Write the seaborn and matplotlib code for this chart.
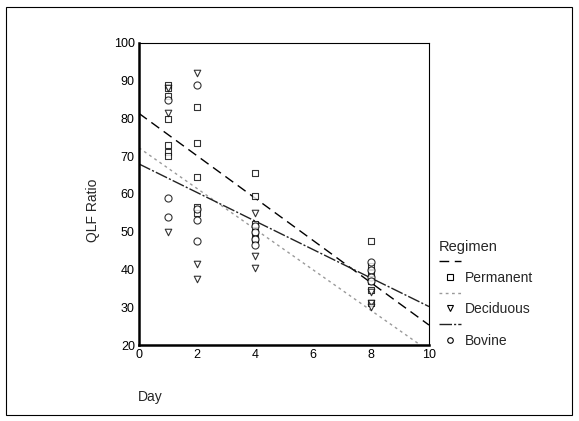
import numpy as np
import pandas as pd
import matplotlib
matplotlib.use("Agg")
import matplotlib.pyplot as plt
from matplotlib.lines import Line2D
from matplotlib.patches import Rectangle
import seaborn as sns

# ---- data ----
perm_day = [1]*7 + [2]*5 + [4]*5 + [8]*6
perm_qlf = [89, 88, 86, 80, 73, 71, 70,
            83, 73.5, 64.5, 56.5, 55,
            65.5, 59.5, 52, 50, 48,
            47.5, 41, 39, 37, 34.5, 31]
dec_day = [1]*3 + [2]*3 + [4]*3 + [8]*3
dec_qlf = [88, 81.5, 50,
           92, 41.5, 37.5,
           55, 43.5, 40.5,
           34, 31, 30]
bov_day = [1]*3 + [2]*4 + [4]*4 + [8]*4
bov_qlf = [85, 59, 54,
           89, 56, 53, 47.5,
           51.5, 50, 48, 46.5,
           42, 40, 38, 37]

regimens = ["Permanent", "Deciduous", "Bovine"]
x_ticks = [0, 2, 4, 6, 8, 10]
y_ticks = [20, 30, 40, 50, 60, 70, 80, 90, 100]

df = pd.concat([
    pd.DataFrame({"Day": perm_day, "QLF": perm_qlf, "Regimen": "Permanent"}),
    pd.DataFrame({"Day": dec_day, "QLF": dec_qlf, "Regimen": "Deciduous"}),
    pd.DataFrame({"Day": bov_day, "QLF": bov_qlf, "Regimen": "Bovine"}),
])

sns.set_style("white")
plt.rcParams["font.family"] = ["Liberation Sans", "DejaVu Sans"]

styles = {
    "Permanent": dict(marker="s", ms=16, line_color="black", dashes=(7, 4), lw=1.0),
    "Deciduous": dict(marker="v", ms=22, line_color="#9a9a9a", dashes=(2, 2.5), lw=1.0),
    "Bovine": dict(marker="o", ms=26, line_color="#222222", dashes=(9, 1.5, 1.5, 1.5), lw=1.0),
}

fig = plt.figure(figsize=(5.79, 4.21), dpi=100)
ax = fig.add_axes([139/579, 1-345/421, (429-139)/579, (345-43)/421])
ax.set_xlim(0, 10)
ax.set_ylim(20, 100)

for reg in regimens:
    st = styles[reg]
    sub = df[df["Regimen"] == reg]
    sns.regplot(data=sub, x="Day", y="QLF", ax=ax, ci=None, truncate=False,
                marker=st["marker"],
                scatter_kws=dict(s=st["ms"], facecolors="white", edgecolors="black",
                                 linewidths=0.8, zorder=3),
                line_kws=dict(color=st["line_color"], lw=st["lw"],
                              dashes=st["dashes"], zorder=2))

ax.set_xlim(0, 10)
ax.set_ylim(20, 100)
ax.set_xticks(x_ticks)
ax.set_yticks(y_ticks)
ax.set_xlabel("")
ax.set_ylabel("")
ax.tick_params(direction="in", length=4, width=2, labelsize=9, colors="black", pad=3)
for s in ax.spines.values():
    s.set_visible(True)
    s.set_color("black")
ax.spines["left"].set_linewidth(1.8)
ax.spines["bottom"].set_linewidth(1.8)
ax.spines["top"].set_linewidth(0.8)
ax.spines["right"].set_linewidth(0.8)

fig.text(93/579, 1-210/421, "QLF Ratio", rotation=90, ha="center", va="center", fontsize=10)
fig.text(138/579, 1-397/421, "Day", ha="left", va="center", fontsize=10)

# legend: line sample above each marker entry
handles, labels = [], []
for reg in regimens:
    st = styles[reg]
    handles.append(Line2D([], [], color=st["line_color"], lw=1.0, dashes=st["dashes"]))
    labels.append(" ")
    handles.append(Line2D([], [], ls="none", marker=st["marker"], markersize=4,
                          markerfacecolor="white", markeredgecolor="black", markeredgewidth=0.8))
    labels.append(reg)
leg = fig.legend(handles, labels, title="Regimen", loc="upper left",
                 bbox_to_anchor=(433/579, 1-234/421), frameon=False,
                 fontsize=10, title_fontsize=10.5, handlelength=1.6,
                 handletextpad=0.3, labelspacing=0.12, borderaxespad=0)
leg._legend_box.align = "left"

fig.patches.append(Rectangle((6/579, 6/421), (572-6)/579, (414-6)/421,
                             transform=fig.transFigure, fill=False,
                             edgecolor="black", lw=0.8))

fig.savefig("out.png", dpi=100)
